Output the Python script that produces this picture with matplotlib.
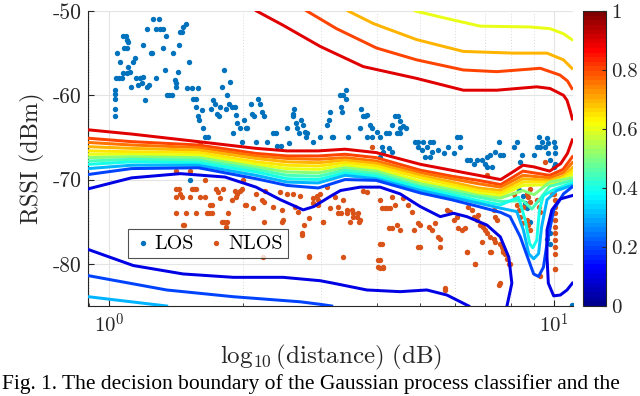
import numpy as np
import matplotlib
matplotlib.use("Agg")
import matplotlib.pyplot as plt
from matplotlib.colors import LinearSegmentedColormap, Normalize
from matplotlib.cm import ScalarMappable
from matplotlib.ticker import NullFormatter, NullLocator, LogLocator

plt.rcParams['mathtext.fontset'] = 'cm'
plt.rcParams['axes.unicode_minus'] = False
CM = ['cmr10', 'DejaVu Serif']

# LOS samples: log10(distance), RSSI (dBm)
los_logd = [0.013, 0.013, 0.013, 0.013, 0.013, 0.016, 0.022, 0.028, 0.018, 0.025, 0.031, 0.037, 0.039, 0.043,
            0.033, 0.039, 0.031, 0.039, 0.043, 0.046, 0.050, 0.054, 0.058, 0.061, 0.065, 0.069, 0.073, 0.076,
            0.076, 0.080, 0.084, 0.086, 0.090, 0.093, 0.097, 0.099, 0.105, 0.106, 0.112, 0.114, 0.120, 0.121,
            0.125, 0.127, 0.129, 0.134, 0.140, 0.144, 0.148, 0.150, 0.151, 0.155, 0.157, 0.159, 0.163, 0.166,
            0.172, 0.180, 0.174, 0.185, 0.189, 0.194, 0.196, 0.199, 0.200, 0.202, 0.208, 0.211, 0.215, 0.223,
            0.228, 0.234, 0.238, 0.243, 0.247, 0.250, 0.254, 0.258, 0.262, 0.265, 0.270, 0.271, 0.277, 0.279,
            0.283, 0.285, 0.288, 0.294, 0.298, 0.303, 0.307, 0.310, 0.318, 0.322, 0.325, 0.330, 0.335, 0.340,
            0.344, 0.348, 0.354, 0.369, 0.374, 0.378, 0.385, 0.400, 0.403, 0.412, 0.414, 0.416, 0.419, 0.423,
            0.427, 0.431, 0.435, 0.439, 0.442, 0.445, 0.457,
            0.474, 0.489, 0.495, 0.496, 0.500, 0.504, 0.519, 0.521, 0.524, 0.525, 0.532, 0.532, 0.537, 0.564,
            0.567, 0.571, 0.575, 0.579, 0.579, 0.587, 0.591, 0.591, 0.602, 0.609, 0.609, 0.613, 0.616, 0.621,
            0.628, 0.628, 0.635, 0.635, 0.642, 0.646, 0.650, 0.654, 0.654, 0.654, 0.661, 0.667, 0.688, 0.695,
            0.695, 0.702, 0.706, 0.710, 0.714, 0.721, 0.721, 0.725, 0.728, 0.740, 0.752, 0.762, 0.774, 0.781,
            0.789, 0.789, 0.804, 0.811, 0.819, 0.826, 0.837, 0.845, 0.849, 0.849, 0.856, 0.860, 0.867, 0.875,
            0.879, 0.886, 0.909, 0.916, 0.924, 0.927, 0.954, 0.961, 0.965, 0.969, 0.972, 0.980, 0.984, 0.987,
            0.987, 0.991, 0.999, 1.002, 1.002, 0.999, 1.002,
            0.920, 0.930, 0.940, 0.945, 0.990, 0.985, 0.990, 0.935, 0.182, 1.040]
los_rssi = [-62.5, -61.6, -60.5, -59.9, -59.4, -58.0, -58.0, -58.0, -55.0, -56.0, -53.0, -53.0, -53.4, -53.7,
            -54.4, -54.4, -57.4, -57.4, -56.6, -57.2, -59.0, -56.0, -55.6, -58.0, -58.8, -58.0, -58.6, -54.0,
            -57.8, -60.6, -59.0, -52.1, -58.8, -55.0, -55.0, -51.0, -58.0, -52.1, -51.0, -52.1, -52.1, -54.4,
            -57.0, -53.0, -60.0, -60.0, -60.0, -55.0, -58.2, -59.0, -58.6, -57.2, -54.0, -52.5, -52.5, -51.9,
            -51.5, -56.0, -59.1, -59.1, -60.5, -60.5, -61.4, -59.1, -62.5, -62.9, -61.8, -63.9, -64.9, -64.9,
            -61.6, -60.6, -61.0, -62.2, -62.5, -61.4, -59.0, -57.0, -61.6, -60.0, -61.0, -58.4, -61.4, -64.5,
            -61.4, -62.4, -63.3, -63.9, -65.5, -62.9, -63.9, -63.9, -61.0, -62.2, -62.5, -65.5, -60.5, -61.0,
            -62.0, -62.5, -65.5, -64.5, -64.5, -66.0, -66.0, -63.9, -65.7, -62.2, -62.5, -61.6, -63.3, -63.9,
            -64.5, -62.9, -63.5, -64.3, -64.9, -64.5, -65.5,
            -64.9, -63.5, -62.9, -62.0, -64.9, -64.9, -60.0, -61.4, -62.0, -60.0, -59.4, -60.5, -64.9, -63.9,
            -61.6, -62.5, -62.5, -62.4, -64.9, -63.5, -63.9, -64.9, -64.3, -64.9, -67.3, -66.1, -66.7, -64.5,
            -64.5, -66.3, -63.5, -66.7, -62.5, -64.5, -62.5, -63.1, -63.9, -64.5, -63.7, -63.9, -65.5, -65.5,
            -66.1, -66.5, -65.5, -67.3, -66.1, -65.5, -67.3, -66.7, -65.5, -66.5, -66.9, -66.1, -66.9, -64.9,
            -64.9, -66.1, -67.7, -67.7, -68.1, -67.7, -67.7, -68.1, -67.3, -68.5, -67.1, -68.5, -66.7, -65.5,
            -67.1, -67.1, -66.1, -65.5, -67.9, -67.1, -67.1, -66.1, -64.9, -66.1, -65.5, -66.1, -65.1, -65.7,
            -66.9, -67.7, -65.5, -66.1, -66.9, -68.5, -68.1,
            -71.2, -72.0, -73.4, -75.0, -76.3, -77.0, -77.6, -72.8, -70.1, -84.9]

# NLOS samples
nlos_logd = [0.151, 0.181, 0.151, 0.157, 0.159, 0.151, 0.185, 0.190, 0.195, 0.181, 0.163, 0.215, 0.215, 0.151,
             0.172, 0.196, 0.219, 0.224, 0.168, 0.230, 0.241, 0.245, 0.249, 0.256, 0.258, 0.264, 0.262, 0.275,
             0.283, 0.286, 0.294, 0.298, 0.300, 0.305, 0.324, 0.343, 0.350, 0.345, 0.384, 0.388, 0.391, 0.425,
             0.433, 0.437, 0.448, 0.450, 0.470, 0.474, 0.459, 0.489,
             0.230, 0.268, 0.166, 0.204, 0.226, 0.253, 0.288, 0.307, 0.331, 0.349, 0.349, 0.369, 0.388, 0.399,
             0.414, 0.433, 0.418, 0.470,
             0.508, 0.515, 0.526, 0.534, 0.545, 0.549, 0.556, 0.564, 0.481, 0.526, 0.571, 0.579, 0.590, 0.609,
             0.613, 0.620, 0.624, 0.631, 0.635, 0.642, 0.628, 0.635, 0.647, 0.654, 0.613, 0.609, 0.616, 0.605,
             0.661, 0.672, 0.680, 0.695, 0.699, 0.684, 0.718, 0.725, 0.733, 0.740, 0.744, 0.755, 0.759, 0.766,
             0.774, 0.781, 0.785, 0.792, 0.800, 0.804, 0.807, 0.815, 0.819, 0.826, 0.830, 0.822, 0.834, 0.841,
             0.845, 0.837, 0.856, 0.849, 0.856, 0.864, 0.867, 0.879, 0.879, 0.882, 0.885, 0.890, 0.894, 0.898,
             0.864, 0.867, 0.871, 0.909, 0.912, 0.916, 0.920, 0.924, 0.927, 0.939, 0.942, 0.946, 0.939, 0.942,
             0.946, 0.931, 0.961, 0.965, 0.969, 0.984, 0.991, 0.995, 0.999, 1.003, 1.003, 1.003, 1.003, 1.003,
             1.003, 1.003, 1.003, 1.001, 1.003, 0.699,
             0.429, 0.459, 0.466, 0.496, 0.515, 0.522, 0.534, 0.549, 0.560, 0.481, 0.541, 0.562, 0.448, 0.609,
             0.616, 0.605, 0.609, 0.695, 0.744, 0.755, 0.804, 0.822, 0.858, 0.877, 0.886, 0.901, 0.969, 1.002,
             0.980, 0.849, 0.946, 0.204]
nlos_rssi = [-69.0, -69.0, -71.1, -71.1, -71.7, -72.1, -71.1, -71.1, -71.1, -72.1, -72.1, -70.1, -72.1, -74.0,
             -74.0, -74.0, -74.0, -74.0, -75.4, -73.0, -71.1, -71.5, -72.2, -71.1, -75.0, -75.0, -75.6, -72.4,
             -71.3, -72.1, -71.3, -71.1, -70.1, -73.0, -73.4, -72.4, -71.3, -79.2, -71.5, -73.6, -74.8, -73.8,
             -76.6, -75.4, -79.2, -74.6, -72.4, -71.7, -72.2, -70.9,
             -74.0, -74.0, -75.4, -72.1, -73.0, -75.0, -71.7, -73.0, -71.7, -72.7, -75.0, -73.2, -75.0, -71.7,
             -71.7, -76.4, -73.3, -73.0,
             -72.1, -73.2, -72.4, -73.6, -73.6, -74.4, -74.4, -74.8, -75.0, -79.2, -71.3, -71.5, -66.1, -72.4,
             -73.4, -73.4, -73.4, -73.4, -72.1, -73.0, -75.8, -75.8, -75.4, -76.0, -77.6, -79.6, -80.4, -80.4,
             -72.2, -73.0, -73.8, -75.2, -75.4, -76.0, -75.6, -76.0, -75.2, -76.8, -78.0, -82.9, -73.6, -73.8,
             -74.8, -74.4, -75.8, -76.0, -75.8, -78.6, -73.2, -73.6, -74.4, -74.8, -74.2, -80.0, -75.4, -75.6,
             -76.0, -77.4, -78.6, -76.4, -76.8, -77.0, -77.4, -82.3, -77.6, -78.0, -78.4, -78.8, -79.4, -80.0,
             -73.6, -74.4, -74.8, -71.7, -72.2, -73.0, -73.6, -74.4, -75.2, -71.7, -72.1, -72.7, -74.8, -75.4,
             -76.0, -73.2, -72.4, -73.2, -73.8, -70.3, -70.5, -71.7, -71.7, -72.4, -73.2, -74.0, -74.8, -75.6,
             -76.4, -77.2, -78.0, -78.8, -80.6, -78.0,
             -72.0, -72.8, -72.0, -73.4, -74.0, -74.0, -74.0, -74.0, -74.0, -75.0, -75.0, -75.0, -79.1, -80.5,
             -80.5, -79.5, -77.6, -78.0, -77.1, -83.1, -78.6, -80.0, -78.6, -82.5, -78.6, -80.0, -81.5, -80.6,
             -67.9, -69.5, -71.1, -65.8]

# decision contours: (probability level, log10(distance), RSSI)
band_x = [-0.047, 0.05, 0.20, 0.33, 0.40, 0.47, 0.53, 0.60, 0.70, 0.77, 0.83, 0.88]
contours = [
    (0.9, [-0.047, 0.05, 0.20, 0.33, 0.40, 0.47, 0.53, 0.60, 0.70, 0.77, 0.83, 0.88, 0.91, 0.93, 0.955, 0.99,
           1.015, 1.03, 1.041],
          [-64.1, -64.6, -65.5, -66.3, -66.6, -66.6, -66.4, -66.8, -68.2, -68.9, -69.5, -70.0, -69.0, -68.3,
           -68.5, -69.0, -68.1, -66.9, -65.3]),
    (0.8, band_x + [0.93, 0.99, 1.02, 1.041],
          [-65.1, -65.5, -65.9, -66.9, -67.2, -67.2, -67.0, -67.4, -68.9, -69.6, -70.1, -70.6, -69.0, -69.5, -68.8, -67.3]),
    (0.75, band_x + [0.93, 0.99, 1.02, 1.041],
          [-65.6, -65.9, -66.2, -67.2, -67.5, -67.6, -67.4, -67.8, -69.2, -69.9, -70.5, -70.9, -69.5, -69.8, -69.2, -68.0]),
    (0.7, band_x + [0.93, 0.99, 1.02, 1.041],
          [-66.1, -66.3, -66.5, -67.5, -67.9, -68.0, -67.7, -68.1, -69.5, -70.3, -71.0, -71.3, -69.9, -70.1, -69.6, -68.6]),
    (0.65, band_x + [0.93, 0.99, 1.02, 1.041],
          [-66.6, -66.7, -66.8, -67.9, -68.3, -68.4, -68.0, -68.4, -69.8, -70.6, -71.3, -71.6, -70.3, -70.3, -69.8, -69.0]),
    (0.6, band_x + [0.93, 0.99, 1.02, 1.041],
          [-67.0, -67.0, -67.1, -68.2, -68.7, -68.8, -68.3, -68.7, -70.2, -70.9, -71.6, -71.9, -70.7, -70.6, -70.0, -69.4]),
    (0.5, band_x + [0.93, 0.955, 0.99, 1.041],
          [-67.4, -67.3, -67.4, -68.5, -69.1, -69.2, -68.6, -69.0, -70.5, -71.2, -71.9, -72.2, -71.3, -71.8, -70.3, -69.8]),
    (0.45, band_x + [0.93, 0.95, 0.965, 0.99, 1.041],
          [-67.8, -67.6, -67.7, -68.8, -69.5, -69.6, -68.9, -69.3, -70.8, -71.5, -72.1, -72.6, -72.5, -73.5, -72.5,
           -70.8, -70.1]),
    (0.4, band_x + [0.92, 0.935, 0.945, 0.952, 0.961, 0.967, 0.976, 0.999, 1.040],
          [-68.2, -67.9, -68.0, -69.1, -69.9, -70.0, -69.2, -69.6, -71.0, -71.8, -72.5, -73.0,
           -72.1, -74.8, -77.6, -78.1, -77.2, -73.6, -71.9, -71.2, -70.4]),
    (0.3, band_x + [0.916, 0.931, 0.943, 0.954, 0.965, 0.972, 0.984, 1.006, 1.040],
          [-68.7, -68.3, -68.3, -69.5, -70.3, -70.4, -69.5, -69.9, -71.3, -72.1, -72.8, -73.4,
           -73.8, -76.0, -78.8, -79.4, -78.8, -75.6, -72.4, -71.3, -70.7]),
    (0.2, band_x + [0.901, 0.924, 0.943, 0.954, 0.965, 0.976, 0.984, 0.999, 1.021, 1.040],
          [-69.4, -68.7, -68.6, -69.9, -70.7, -71.0, -70.0, -70.1, -71.6, -72.4, -73.2, -73.9,
           -74.4, -76.8, -79.6, -81.2, -81.5, -80.4, -77.6, -73.6, -71.7, -70.9]),
    (0.1, [-0.047, 0.05, 0.16, 0.26, 0.33, 0.385, 0.436, 0.46, 0.50, 0.52, 0.564, 0.609, 0.654, 0.699,
           0.744, 0.774, 0.804, 0.849, 0.879, 0.898, 0.905, 0.894],
          [-71.1, -69.8, -69.3, -69.7, -70.9, -72.4, -73.6, -73.2, -71.9, -71.3, -70.9, -70.9, -71.7, -73.2,
           -74.4, -74.0, -74.4, -75.4, -76.8, -79.2, -82.3, -85.0]),
    (0.1, [1.041, 1.014, 0.995, 0.984, 0.984, 0.987, 0.999, 1.014, 1.029, 1.041],
          [-71.9, -72.3, -73.6, -76.0, -79.2, -82.3, -83.8, -83.7, -83.1, -82.3]),
    (0.1, [-0.047, 0.054, 0.166, 0.279, 0.391, 0.474, 0.504, 0.579, 0.654, 0.714, 0.759, 0.808],
          [-78.3, -80.2, -81.2, -81.6, -81.6, -82.0, -82.3, -83.1, -83.3, -83.1, -83.7, -85.0]),
    (0.2, [-0.047, 0.129, 0.279, 0.429, 0.474, 0.50],
          [-81.4, -83.1, -83.9, -84.5, -84.8, -85.0]),
    (0.3, [-0.047, 0.129], [-83.9, -85.0]),
    (0.9, [0.331, 0.391, 0.474, 0.571, 0.691, 0.796, 0.871, 0.961, 0.991, 1.006, 1.021, 1.029, 1.036, 1.041],
          [-50.0, -51.7, -54.2, -56.6, -58.0, -59.4, -59.4, -59.0, -59.2, -59.6, -60.0, -60.6, -61.8, -62.8]),
    (0.8, [0.444, 0.511, 0.601, 0.691, 0.796, 0.871, 0.969, 1.013, 1.030, 1.040],
          [-50.0, -52.1, -54.4, -55.8, -57.0, -57.2, -56.8, -57.6, -58.3, -59.2]),
    (0.7, [0.537, 0.594, 0.691, 0.796, 0.909, 0.984, 1.021, 1.040],
          [-50.0, -51.5, -53.4, -54.8, -55.0, -55.0, -55.8, -56.8]),
    (0.6, [0.688, 0.759, 0.834, 0.946, 0.991, 1.021, 1.040],
          [-50.0, -50.9, -51.8, -51.9, -52.1, -52.7, -53.4]),
]

caption = "Fig. 1. The decision boundary of the Gaussian process classifier and the"

# MATLAB-like jet, 64 steps
jet = LinearSegmentedColormap.from_list(
    'mjet', [(0, (0, 0, 0.5625)), (0.125, (0, 0, 1)), (0.375, (0, 1, 1)),
             (0.625, (1, 1, 0)), (0.875, (1, 0, 0)), (1, (0.5, 0, 0))], N=64)
norm = Normalize(0, 1)

fig = plt.figure(figsize=(6.4, 3.96), dpi=100)
ax = fig.add_axes([0.138, 0.2273, 0.757, 0.745])

ax.scatter(10 ** np.array(los_logd), los_rssi, s=15, color='#0072BD', linewidths=0, label='LOS', zorder=2)
ax.scatter(10 ** np.array(nlos_logd), nlos_rssi, s=15, color='#D95319', linewidths=0, label='NLOS', zorder=2)

for lev, xs, ys in contours:
    ax.plot(10 ** np.array(xs), ys, color=jet(norm(lev)), lw=2.15, solid_joinstyle='round', zorder=3)

ax.set_xscale('log')
ax.set_xlim(10 ** -0.047, 10 ** 1.042)
ax.set_ylim(-85, -50)
ax.set_xticks([1, 10])
ax.set_xticklabels([r'$10^{0}$', r'$10^{1}$'], fontsize=15)
ax.xaxis.set_minor_locator(LogLocator(base=10, subs=np.arange(2, 10)))
ax.xaxis.set_minor_formatter(NullFormatter())
ax.set_yticks([-80, -70, -60, -50])
ax.set_yticklabels(['-80', '-70', '-60', '-50'], family=CM, fontsize=15.5)
ax.yaxis.set_minor_locator(NullLocator())

ax.grid(True, which='major', color='#e4e4e4', lw=0.8)
ax.grid(True, which='minor', axis='x', color='#d8d8d8', ls=(0, (1, 2)), lw=0.7)
ax.set_axisbelow(True)
for side in ['top', 'right']:
    ax.spines[side].set_visible(False)
for side in ['left', 'bottom']:
    ax.spines[side].set_color('#262626')
    ax.spines[side].set_linewidth(0.8)
ax.tick_params(which='both', direction='in', color='#262626', labelcolor='#262626')
ax.tick_params(which='major', length=4, pad=5)
ax.tick_params(which='minor', length=2)

ax.set_xlabel(r'$\log_{10}(\mathrm{distance})\ (\mathrm{dB})$', fontsize=18, color='#262626', labelpad=4)
ax.set_ylabel('RSSI (dBm)', family=CM, fontsize=17.5, color='#262626', labelpad=5)

leg = ax.legend(loc='lower left', bbox_to_anchor=(0.081, 0.164), ncol=2, borderaxespad=0,
                prop={'family': 'cmr10', 'size': 14.5}, frameon=True, fancybox=False,
                handletextpad=0.1, columnspacing=0.6, borderpad=0.25, markerscale=1.0,
                handlelength=1.0)
leg.get_frame().set_edgecolor('#262626')
leg.get_frame().set_linewidth(0.8)
leg.set_zorder(5)

cax = fig.add_axes([0.9105, 0.228, 0.0364, 0.744])
cb = fig.colorbar(ScalarMappable(norm=norm, cmap=jet), cax=cax)
cb.set_ticks([0, 0.2, 0.4, 0.6, 0.8, 1])
cb.set_ticklabels(['0', '0.2', '0.4', '0.6', '0.8', '1'])
cb.outline.set_edgecolor('#262626')
cb.outline.set_linewidth(0.8)
cax.tick_params(direction='in', length=3, color='#262626', labelsize=15, labelcolor='#262626', pad=4)
for t in cax.get_yticklabels():
    t.set_family(CM)

# caption, shrunk until it fits the figure width
cap = fig.text(0.003, 0.004, caption, fontsize=17, family='Liberation Serif', va='bottom', ha='left')
renderer = fig.canvas.get_renderer()
while cap.get_window_extent(renderer).x1 > 636 and cap.get_fontsize() > 8:
    cap.set_fontsize(cap.get_fontsize() - 0.5)

fig.savefig('out.png', dpi=100)
